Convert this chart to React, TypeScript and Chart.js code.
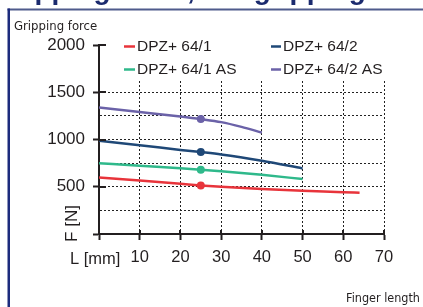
import { useEffect, useRef } from 'react';
import { Chart, registerables } from 'chart.js';

Chart.register(...registerables);

const titleText = 'Gripping force, I.D. gripping';
const yCaption = 'Gripping force';
const xCaption = 'Finger length';
const yAxisTitle = 'F [N]';
const xAxisTitle = 'L [mm]';

const seriesLabels = ['DPZ+ 64/1', 'DPZ+ 64/2', 'DPZ+ 64/1 AS', 'DPZ+ 64/2 AS'];
const seriesColors = ['#e8343b', '#1f4877', '#2fb98b', '#6b62a8'];

const redX = [0, 10, 20, 25, 30, 40, 50, 60, 64];
const redY = [598, 566, 532, 514, 500, 476, 458, 443, 436];
const navyX = [0, 10, 20, 25, 30, 40, 50];
const navyY = [986, 940, 890, 867, 842, 775, 694];
const greenX = [0, 10, 20, 25, 30, 40, 50];
const greenY = [750, 722, 695, 680, 665, 627, 581];
const purpleX = [0, 10, 20, 25, 30, 35, 40];
const purpleY = [1338, 1291, 1243, 1216, 1184, 1134, 1074];

const markerX = 25;
const yTickLabels = [500, 1000, 1500, 2000];
const xTickLabels = [10, 20, 30, 40, 50, 60, 70];

const INK = '#231f20';
const FONT = '"Liberation Sans", Arial, sans-serif';
const NARROW = '"Liberation Sans Narrow", "DejaVu Sans Condensed", sans-serif';

function pts(xs: number[], ys: number[]) {
  return xs.map((x, i) => ({ x, y: ys[i] }));
}

export default function App() {
  const ref = useRef<HTMLCanvasElement | null>(null);

  useEffect(() => {
    const canvas = ref.current;
    if (!canvas) return;
    document.body.style.margin = '0';

    const allData = [pts(redX, redY), pts(navyX, navyY), pts(greenX, greenY), pts(purpleX, purpleY)];

    const decor = {
      id: 'decor',
      beforeDatasetsDraw(chart: any) {
        const { ctx, chartArea } = chart;
        ctx.save();
        ctx.fillStyle = '#ffffff';
        ctx.fillRect(chartArea.left + 1.5, chartArea.top - 2, chartArea.right - chartArea.left + 2, 83 - chartArea.top);
        ctx.restore();
      },
      afterDraw(chart: any) {
        const { ctx } = chart;
        const xs = chart.scales.x;
        const ys = chart.scales.y;
        ctx.save();
        // inner tick marks
        ctx.strokeStyle = INK;
        ctx.lineWidth = 2;
        const axX = xs.getPixelForValue(0);
        const axY = ys.getPixelForValue(0);
        yTickLabels.forEach((v) => {
          const py = Math.round(ys.getPixelForValue(v));
          ctx.beginPath();
          ctx.moveTo(axX, py);
          ctx.lineTo(axX + 7, py);
          ctx.stroke();
        });
        xTickLabels.forEach((v) => {
          const px = Math.round(xs.getPixelForValue(v));
          ctx.beginPath();
          ctx.moveTo(px, axY);
          ctx.lineTo(px, axY - 4);
          ctx.stroke();
        });

        // legend
        const datasets = chart.data.datasets;
        const colX = [124, 271];
        const colW = [11, 10];
        const rowY = [46.5, 69.5];
        ctx.font = `15.5px ${FONT}`;
        ctx.textBaseline = 'middle';
        ctx.textAlign = 'left';
        datasets.forEach((ds: any, i: number) => {
          const c = i % 2;
          const r = Math.floor(i / 2);
          ctx.strokeStyle = ds.borderColor;
          ctx.lineWidth = 2.5;
          ctx.beginPath();
          ctx.moveTo(colX[c], rowY[r]);
          ctx.lineTo(colX[c] + colW[c], rowY[r]);
          ctx.stroke();
          ctx.fillStyle = INK;
          ctx.fillText(ds.label, colX[c] + colW[c] + 2, rowY[r] + 0.5);
        });

        // axis titles
        ctx.fillStyle = INK;
        ctx.font = `16.5px ${FONT}`;
        ctx.textBaseline = 'alphabetic';
        ctx.textAlign = 'left';
        ctx.fillText(xAxisTitle, 70, 264);
        ctx.save();
        ctx.translate(77, 223.5);
        ctx.rotate(-Math.PI / 2);
        ctx.textAlign = 'center';
        ctx.font = `17px ${FONT}`;
        ctx.fillText(yAxisTitle, 0, 0);
        ctx.restore();

        // captions
        ctx.font = `13px ${NARROW}`;
        ctx.textAlign = 'left';
        ctx.fillText(yCaption, 14, 30);
        ctx.textAlign = 'right';
        ctx.font = `12.5px ${NARROW}`;
        ctx.fillText(xCaption, 420, 301.5);

        // frame
        ctx.fillStyle = '#4f5b8c';
        ctx.fillRect(7.5, 8.5, 416, 2);
        ctx.fillStyle = '#1c2b7d';
        ctx.fillRect(7.5, 8.5, 2.5, 300);

        // title (cut off at top)
        ctx.fillStyle = '#1b2a6e';
        ctx.font = `bold 28px ${FONT}`;
        ctx.textAlign = 'left';
        ctx.textBaseline = 'alphabetic';
        ctx.fillText(titleText, -6, -1.5);
        ctx.restore();
      },
    };

    const chart = new Chart(canvas, {
      type: 'line',
      data: {
        datasets: allData.map((d, i) => ({
          label: seriesLabels[i],
          data: d,
          borderColor: seriesColors[i],
          backgroundColor: seriesColors[i],
          borderWidth: 2.5,
          cubicInterpolationMode: 'monotone' as const,
          pointRadius: (c: any) => (c.raw && c.raw.x === markerX ? 4 : 0),
          pointBackgroundColor: seriesColors[i],
          pointBorderWidth: 0,
          fill: false,
        })),
      },
      options: {
        responsive: false,
        animation: false,
        devicePixelRatio: 1,
        layout: { padding: { left: 0, top: 45, right: 39, bottom: 0 } },
        plugins: { legend: { display: false }, tooltip: { enabled: false } },
        scales: {
          x: {
            type: 'linear',
            min: 0,
            max: 70,
            afterFit: (s: any) => {
              s.height = 73;
            },
            ticks: {
              stepSize: 10,
              padding: 8,
              color: INK,
              font: { family: FONT, size: 16.5 },
              maxRotation: 0,
              autoSkip: false,
              callback: (v: any) => (xTickLabels.includes(Number(v)) ? String(v) : ''),
            },
            grid: {
              color: '#222222',
              lineWidth: 1,
              tickLength: 6,
              tickWidth: 2,
              tickColor: INK,
              tickBorderDash: [],
            },
            border: { display: true, color: INK, width: 2, dash: [2, 2] },
          },
          y: {
            type: 'linear',
            min: 0,
            max: 2000,
            afterFit: (s: any) => {
              s.width = 99;
            },
            ticks: {
              stepSize: 250,
              padding: 8,
              color: INK,
              font: { family: FONT, size: 17 },
              autoSkip: false,
              callback: (v: any) => (yTickLabels.includes(Number(v)) ? String(v) : ''),
            },
            grid: {
              color: (c: any) => (c.tick && c.tick.value > 1500 ? 'rgba(0,0,0,0)' : '#222222'),
              lineWidth: 1,
              tickLength: 6,
              tickWidth: 2,
              tickColor: (c: any) => (c.tick && c.tick.value % 500 === 0 ? INK : 'rgba(0,0,0,0)'),
              tickBorderDash: [],
            },
            border: { display: true, color: INK, width: 2, dash: [2, 2] },
          },
        },
      },
      plugins: [decor],
    } as any);

    return () => chart.destroy();
  }, []);

  return (
    <div style={{ position: 'fixed', left: 0, top: 0, width: 423, height: 307, background: '#fff' }}>
      <canvas ref={ref} width={423} height={307} style={{ width: 423, height: 307, display: 'block' }} />
    </div>
  );
}
